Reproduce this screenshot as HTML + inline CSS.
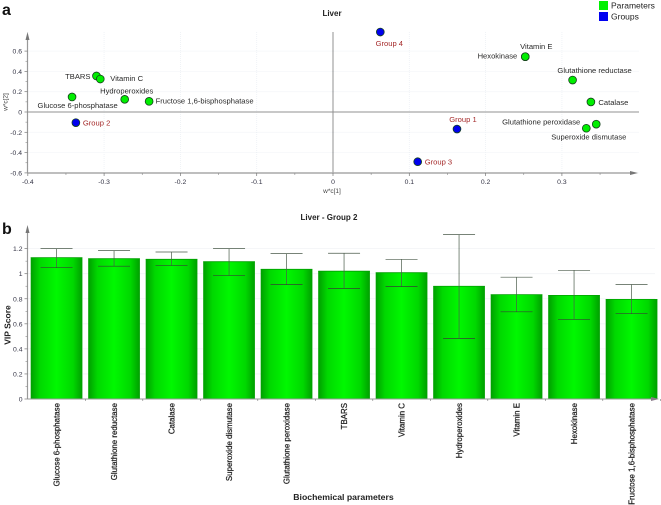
<!DOCTYPE html>
<html>
<head>
<meta charset="utf-8">
<style>
html,body{margin:0;padding:0;background:#fff;width:661px;height:505px;overflow:hidden}
svg{display:block;font-family:"Liberation Sans",sans-serif;filter:blur(0.3px)}
</style>
</head>
<body>
<svg id="fig" width="661" height="505" viewBox="0 0 661 505">
<defs>
<linearGradient id="barFill" x1="0" x2="1" y1="0" y2="0">
<stop offset="0" stop-color="#009e00"/>
<stop offset="0.18" stop-color="#00d800"/>
<stop offset="0.5" stop-color="#00f800"/>
<stop offset="0.82" stop-color="#00d800"/>
<stop offset="1" stop-color="#009e00"/>
</linearGradient>
</defs>
<text x="2" y="15" font-size="16" font-weight="bold" fill="#111">a</text>
<text x="2" y="234" font-size="16" font-weight="bold" fill="#111">b</text>
<text x="332" y="16" font-size="8" font-weight="bold" text-anchor="middle" fill="#222">Liver</text>
<text x="329" y="220" font-size="8" font-weight="bold" text-anchor="middle" fill="#222">Liver - Group 2</text>
<rect x="599" y="1" width="9" height="9" fill="#00f000"/>
<text x="611" y="8.5" font-size="8.5" fill="#222">Parameters</text>
<rect x="599" y="12" width="9" height="9" fill="#0000f0"/>
<text x="611" y="19.5" font-size="8.5" fill="#222">Groups</text>
<g id="scatterGrid"></g>
<g id="barGrid"></g>
<line x1="27.5" y1="112" x2="639" y2="112" stroke="#a8a8a8" stroke-width="1.3"/>
<line x1="333" y1="32" x2="333" y2="173" stroke="#909090" stroke-width="1"/>
<line x1="27.5" y1="36" x2="27.5" y2="173" stroke="#999" stroke-width="1.2"/>
<line x1="27.5" y1="173" x2="634" y2="173" stroke="#a8a8a8" stroke-width="1.4"/>
<polygon points="27.5,32 25.5,40 29.5,40" fill="#777"/>
<polygon points="638,173 630,171 630,175" fill="#777"/>
<text x="332" y="193" font-size="6.5" text-anchor="middle" fill="#444">w*c[1]</text>
<text transform="translate(7.5 102) rotate(-90)" font-size="6.5" text-anchor="middle" fill="#444">w*c[2]</text>
<g id="scatterTicks"></g>
<g id="scatterPoints"></g>
<g id="bars"></g>
<line x1="27.5" y1="229" x2="27.5" y2="399" stroke="#999" stroke-width="1.2"/>
<line x1="27.5" y1="399" x2="655" y2="399" stroke="#999" stroke-width="1"/>
<polygon points="27.5,225 25.5,233 29.5,233" fill="#777"/>
<polygon points="659,399 651,397 651,401" fill="#8a7a8a"/>
<g id="barTicks"></g>
<text transform="translate(10.5 325) rotate(-90)" font-size="8.5" font-weight="bold" text-anchor="middle" fill="#222">VIP Score</text>
<text x="343.5" y="500" font-size="8.7" font-weight="bold" text-anchor="middle" fill="#222">Biochemical parameters</text>
</svg>
<script>
// Scatter data
var pointNames = ["TBARS","Vitamin C","Glucose 6-phosphatase","Hydroperoxides","Fructose 1,6-bisphosphatase","Vitamin E","Hexokinase","Glutathione reductase","Catalase","Glutathione peroxidase","Superoxide dismutase","Group 1","Group 2","Group 3","Group 4"];
var pointX = [-0.31,-0.305,-0.342,-0.273,-0.241,0.252,0.252,0.314,0.338,0.345,0.332,0.1625,-0.337,0.111,0.062];
var pointY = [0.355,0.325,0.148,0.125,0.105,0.545,0.545,0.315,0.099,-0.12,-0.16,-0.168,-0.105,-0.49,0.788];
var pointKinds = ["p","p","p","p","p","p","p","p","p","p","p","g","g","g","g"];
var scatterXTicks = [-0.4,-0.3,-0.2,-0.1,0,0.1,0.2,0.3];
var scatterYTicks = [0.6,0.4,0.2,0,-0.2,-0.4,-0.6];
// Bar data
var barNames = ["Glucose 6-phosphatase","Glutathione reductase","Catalase","Superoxide dismutase","Glutathione peroxidase","TBARS","Vitamin C","Hydroperoxides","Vitamin E","Hexokinase","Fructose 1,6-bisphosphatase"];
var barValues = [1.128,1.12,1.115,1.096,1.035,1.02,1.008,0.9,0.833,0.827,0.795];
var errorUpper = [1.2,1.184,1.173,1.2,1.16,1.163,1.115,1.312,0.972,1.027,0.914];
var errorLower = [1.048,1.06,1.066,0.986,0.913,0.883,0.897,0.484,0.696,0.636,0.681];
var barYTicks = [0,0.2,0.4,0.6,0.8,1,1.2];

// Label placement relative to each point: [dx, dy, anchor]
var labelPlacement = {
 "TBARS":[-6,3,"end"],"Vitamin C":[10,2,"start"],"Glucose 6-phosphatase":[-34.5,11,"start"],
 "Hydroperoxides":[2,-6,"middle"],"Fructose 1,6-bisphosphatase":[6.5,2,"start"],
 "Vitamin E":[11,-7.5,"middle"],"Hexokinase":[-8,2,"end"],"Glutathione reductase":[22,-7,"middle"],
 "Catalase":[7.5,3,"start"],"Glutathione peroxidase":[-16,0.5,"end"],"Superoxide dismutase":[2.5,11.5,"middle"],
 "Group 1":[6,-7,"middle"],"Group 2":[7,3,"start"],"Group 3":[7,3,"start"],"Group 4":[9,14,"middle"]
};

var NS = "http://www.w3.org/2000/svg";
function make(parent, tag, attrs, txt){
  var el = document.createElementNS(NS, tag);
  for (var k in attrs) el.setAttribute(k, attrs[k]);
  if (txt !== undefined) el.textContent = txt;
  parent.appendChild(el);
  return el;
}
function slug(s){ return s.toLowerCase().replace(/[^a-z0-9]+/g,'-'); }
function sx(v){ return 333 + v * 763; }
function sy(v){ return 112 - v * 101.5; }
function by(v){ return 399 - v * 125.3; }
function barLeft(i){ return 30.7 + i * 57.5; }
var BAR_W = 51.7, CAP = 16;

var sg = document.getElementById('scatterGrid');
var st = document.getElementById('scatterTicks');
var i, el;
scatterXTicks.forEach(function(v){
  var g = make(sg,'line',{x1:sx(v),x2:sx(v),y1:32,y2:173,stroke:'#ecf0f4','stroke-width':0.8,'stroke-dasharray':'1 1'});
  
  
  var t = make(st,'line',{x1:sx(v),x2:sx(v),y1:173,y2:176,stroke:'#777','stroke-width':0.7});
  
  
  var m = make(st,'line',{x1:sx(v+0.05),x2:sx(v+0.05),y1:173,y2:175,stroke:'#888','stroke-width':0.6});
  
  
  var l = make(st,'text',{x:sx(v),y:184,'font-size':6.8,'text-anchor':'middle',fill:'#334'}, String(v));
  
  
});
scatterYTicks.forEach(function(v){
  var g = make(sg,'line',{x1:27.5,x2:639,y1:sy(v),y2:sy(v),stroke:'#ecf0f4','stroke-width':0.8,'stroke-dasharray':'1 1'});
  
  
  var t = make(st,'line',{x1:24.5,x2:27.5,y1:sy(v),y2:sy(v),stroke:'#777','stroke-width':0.7});
  
  
  if (v > -0.6) {
    var m = make(st,'line',{x1:25.5,x2:27.5,y1:sy(v-0.1),y2:sy(v-0.1),stroke:'#888','stroke-width':0.6});
    
    
  }
  var l = make(st,'text',{x:22,y:sy(v)+2.5,'font-size':6.8,'text-anchor':'end',fill:'#334'}, String(v));
  
  
});

var sp = document.getElementById('scatterPoints');
for (i = 0; i < pointNames.length; i++) {
  var isGroup = pointKinds[i] === 'g';
  el = make(sp,'circle',{cx:sx(pointX[i]),cy:sy(pointY[i]),r:3.9,fill:isGroup?'#0000ee':'#00ee00',stroke:'#14401a','stroke-width':0.8});
  
  
}
for (i = 0; i < pointNames.length; i++) {
  var p = labelPlacement[pointNames[i]];
  el = make(sp,'text',{x:sx(pointX[i])+p[0],y:sy(pointY[i])+p[1],'font-size':7.6,'text-anchor':p[2],fill:pointKinds[i]==='g'?'#a52a2a':'#2a2a2a'}, pointNames[i]);
  
  
}

var bg = document.getElementById('barGrid');
var bt = document.getElementById('barTicks');
barYTicks.forEach(function(v){
  var g = make(bg,'line',{x1:27.5,x2:655,y1:by(v),y2:by(v),stroke:'#e4e8ec','stroke-width':0.8,'stroke-dasharray':'1 1'});
  
  
  var t = make(bt,'line',{x1:24.5,x2:27.5,y1:by(v),y2:by(v),stroke:'#777','stroke-width':0.7});
  
  
  if (v < 1.2) {
    var m = make(bt,'line',{x1:25.5,x2:27.5,y1:by(v+0.1),y2:by(v+0.1),stroke:'#888','stroke-width':0.6});
    
    
  }
  var l = make(bt,'text',{x:22.5,y:by(v)+2.5,'font-size':6.8,'text-anchor':'end',fill:'#334'}, String(v));
  
  
});

var bs = document.getElementById('bars');
for (i = 0; i < barNames.length; i++) {
  var left = barLeft(i), mid = left + BAR_W / 2, key = slug(barNames[i]);
  el = make(bs,'rect',{x:left,y:by(barValues[i]),width:BAR_W,height:399-by(barValues[i]),fill:'url(#barFill)'});
  
  
  el = make(bs,'line',{x1:left,x2:left+BAR_W,y1:by(barValues[i]),y2:by(barValues[i]),stroke:'#00a000','stroke-width':0.8});
  
  
  el = make(bs,'line',{x1:mid,x2:mid,y1:by(errorUpper[i]),y2:by(errorLower[i]),stroke:'#4a5a4a','stroke-width':0.7});
  
  
  el = make(bs,'line',{x1:mid-CAP,x2:mid+CAP,y1:by(errorUpper[i]),y2:by(errorUpper[i]),stroke:'#4a5a4a','stroke-width':0.7});
  
  
  el = make(bs,'line',{x1:mid-CAP,x2:mid+CAP,y1:by(errorLower[i]),y2:by(errorLower[i]),stroke:'#334433','stroke-width':0.7});
  
  
  el = make(bt,'line',{x1:left+BAR_W+2.9,x2:left+BAR_W+2.9,y1:399,y2:401,stroke:'#777','stroke-width':0.6});
  
  
  el = make(bt,'text',{transform:'translate('+(mid+3)+' 403) rotate(-90)','font-size':7.9,'text-anchor':'end',fill:'#222',stroke:'#222','stroke-width':0.25}, barNames[i]);
  
  
}
</script>
</body>
</html>
